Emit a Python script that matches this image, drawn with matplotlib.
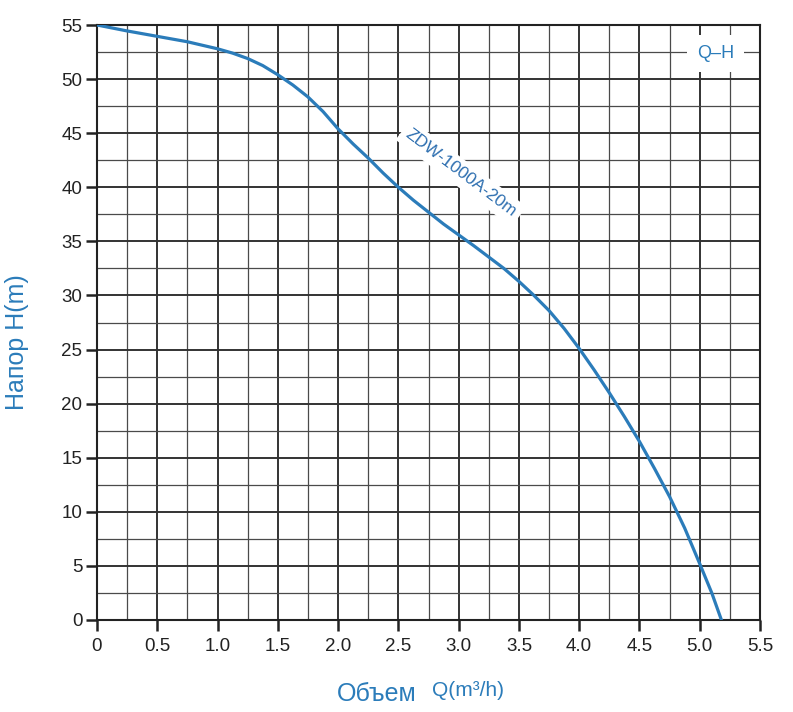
import matplotlib
matplotlib.use("Agg")
import matplotlib.pyplot as plt
from matplotlib.ticker import MultipleLocator

# Data
flow_q = [0, 0.25, 0.5, 0.75, 1.0, 1.125, 1.25, 1.375, 1.5, 1.625, 1.75, 1.875,
          2.0, 2.125, 2.25, 2.375, 2.5, 2.625, 2.75, 2.875, 3.0, 3.125, 3.25, 3.375,
          3.5, 3.625, 3.75, 3.875, 4.0, 4.125, 4.25, 4.375, 4.5, 4.625, 4.75, 4.875,
          5.0, 5.1, 5.18]
head_h = [55.0, 54.45, 53.95, 53.45, 52.8, 52.4, 51.9, 51.25, 50.4, 49.45, 48.35, 47.0,
          45.4, 44.0, 42.7, 41.3, 40.0, 38.8, 37.7, 36.6, 35.6, 34.6, 33.55, 32.5,
          31.3, 30.0, 28.6, 26.95, 25.1, 23.1, 21.0, 18.8, 16.5, 14.0, 11.4, 8.5,
          5.2, 2.5, 0.0]
x_ticks = [0, 0.5, 1.0, 1.5, 2.0, 2.5, 3.0, 3.5, 4.0, 4.5, 5.0, 5.5]
x_tick_labels = ["0", "0.5", "1.0", "1.5", "2.0", "2.5", "3.0", "3.5", "4.0", "4.5", "5.0", "5.5"]
y_ticks = [0, 5, 10, 15, 20, 25, 30, 35, 40, 45, 50, 55]
model_label = "ZDW-1000A-20m"
legend_label = "Q–H"

BLUE = "#2b7cba"
TXT = "#222222"

plt.rcParams['font.family'] = ['Liberation Sans', 'DejaVu Sans']

fig = plt.figure(figsize=(7.93, 7.12), dpi=100)
ax = fig.add_axes([97/793, 1-620/712, (760-97)/793, (620-25)/712])

ax.set_xlim(0, 5.5)
ax.set_ylim(0, 55)
ax.set_xticks(x_ticks)
ax.set_xticklabels(x_tick_labels)
ax.set_yticks(y_ticks)
ax.xaxis.set_minor_locator(MultipleLocator(0.25))
ax.yaxis.set_minor_locator(MultipleLocator(2.5))

ax.grid(which='major', color='#333333', linewidth=1.4, zorder=0)
ax.grid(which='minor', color='#4a4a4a', linewidth=0.9, zorder=0)
ax.set_axisbelow(True)

for s in ax.spines.values():
    s.set_color('#222222')
    s.set_linewidth(1.5)

ax.tick_params(which='major', direction='out', length=8, width=1.8, color='#222222',
               labelsize=13.5, labelcolor=TXT, pad=5)
ax.tick_params(axis='y', which='major', pad=2.5)
ax.tick_params(which='minor', length=0)

ax.plot(flow_q, head_h, color=BLUE, linewidth=2.3, solid_capstyle='round',
        solid_joinstyle='round', zorder=3)

ax.text(3.02, 41.3, model_label, rotation=-37, rotation_mode='anchor',
        ha='center', va='center', fontsize=12.5, color='#2e6fb0',
        family=['Liberation Sans Narrow', 'Liberation Sans', 'DejaVu Sans'],
        bbox=dict(boxstyle='square,pad=0.3', facecolor='white', edgecolor='none'),
        zorder=4)

ax.text(5.13, 52.4, legend_label, ha='center', va='center', fontsize=13, color=BLUE,
        bbox=dict(boxstyle='square,pad=0.55', facecolor='white', edgecolor='none'),
        zorder=4)

# Axis labels
fig.text(17/793, 1-342/712, "Напор H(m)", rotation=90, ha='center', va='center',
         fontsize=18, color=BLUE)
fig.text(417/793, 1-701/712, "Объем", ha='right', va='baseline', fontsize=18, color=BLUE)
fig.text(432/793, 1-696/712, "Q(m³/h)", ha='left', va='baseline', fontsize=15, color=BLUE)

fig.savefig("out.png", dpi=100)
